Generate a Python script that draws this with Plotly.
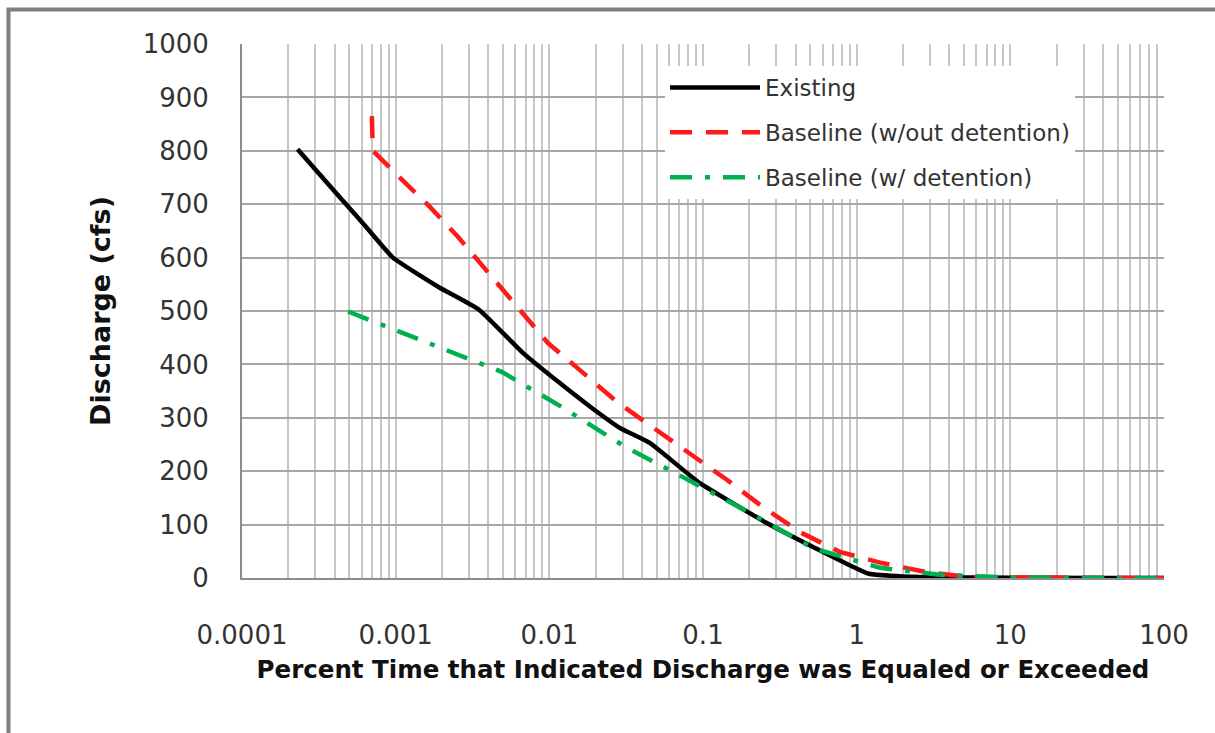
import plotly.graph_objects as go

# ---- data ----
existing_x = [0.00023, 0.00043, 0.00061, 0.00096, 0.0019, 0.0035, 0.0067, 0.0117, 0.019,
              0.0288, 0.045, 0.095, 0.26, 0.52, 0.9, 1.2, 2, 5, 10, 20, 50, 100]
existing_y = [803, 714, 665, 600, 545, 502, 422, 365, 318,
              281, 253, 178, 103, 58, 24, 8, 3, 1, 0.5, 0.3, 0.1, 0]

base_no_det_x = [0.0007, 0.00071, 0.00102, 0.00167, 0.00254, 0.004, 0.0062, 0.0098, 0.0163,
                 0.0275, 0.0466, 0.082, 0.143, 0.245, 0.427, 0.777, 1.46, 2.86, 5.45, 10, 30, 100]
base_no_det_y = [865, 800, 755, 695, 639, 572, 506, 440, 386,
                 330, 283, 234, 184, 133, 86, 49, 28, 11, 2, 1, 0.3, 0]

base_det_x = [0.00049, 0.00186, 0.0049, 0.01225, 0.031, 0.0798, 0.202, 0.519, 1.42, 3.48, 10, 30, 100]
base_det_y = [499, 433, 386, 319, 246, 184, 122, 56, 19, 6, 1, 0.3, 0]

x_tick_vals = [0.0001, 0.001, 0.01, 0.1, 1, 10, 100]
x_tick_text = ["0.0001", "0.001", "0.01", "0.1", "1", "10", "100"]
y_tick_vals = [0, 100, 200, 300, 400, 500, 600, 700, 800, 900, 1000]

series_names = ["Existing", "Baseline (w/out detention)", "Baseline (w/ detention)"]

FONT = "DejaVu Sans"

fig = go.Figure()
fig.add_trace(go.Scatter(x=existing_x, y=existing_y, mode="lines", name=series_names[0],
                         legendgroup="a",
                         line=dict(color="#000000", width=4.5, shape="spline", smoothing=0.4)))
fig.add_trace(go.Scatter(x=base_no_det_x, y=base_no_det_y, mode="lines", name=series_names[1],
                         legendgroup="b",
                         line=dict(color="#FF1A1A", width=4.5, dash="22px,14px")))
fig.add_trace(go.Scatter(x=base_det_x, y=base_det_y, mode="lines", name=series_names[2],
                         legendgroup="c",
                         line=dict(color="#00B050", width=4.5, dash="22px,13px,5px,13px")))

W, H = 1215, 733
L, R, T, B = 242, 51, 44, 155
pw = W - L - R
ph = H - T - B

def px_to_paper_x(px):
    return (px - L) / pw

def px_to_paper_y(py):
    return (H - B - py) / ph

fig.update_layout(
    width=W, height=H,
    margin=dict(l=L, r=R, t=T, b=B),
    paper_bgcolor="white", plot_bgcolor="white",
    font=dict(family=FONT, color="#333333"),
    showlegend=True,
    legend=dict(
        x=px_to_paper_x(665), y=px_to_paper_y(66), xanchor="left", yanchor="top",
        bgcolor="white", borderwidth=0,
        font=dict(family=FONT, size=23, color="#333333"),
        itemwidth=90, tracegroupgap=12,
    ),
    shapes=[
        dict(type="rect", xref="paper", yref="paper",
             x0=px_to_paper_x(8.5), x1=px_to_paper_x(1240),
             y0=px_to_paper_y(760), y1=px_to_paper_y(9.5),
             line=dict(color="#7f7f7f", width=4), fillcolor="rgba(0,0,0,0)", layer="above"),
    ],
)

fig.update_xaxes(
    type="log", range=[-4, 2],
    tickmode="array", tickvals=x_tick_vals, ticktext=x_tick_text,
    tickfont=dict(family=FONT, size=26, color="#333333"),
    showgrid=True, gridcolor="#c6c6c6", gridwidth=2,
    minor=dict(dtick="D1", showgrid=True, gridcolor="#c6c6c6", gridwidth=2, ticks=""),
    showline=True, linecolor="#8c8c8c", linewidth=2,
    ticks="outside", ticklen=0, ticklabelstandoff=33,
    zeroline=False,
    title=dict(text="<b>Percent Time that Indicated Discharge was Equaled or Exceeded</b>",
               font=dict(family=FONT, size=24.5, color="#111111"), standoff=12),
)
fig.update_yaxes(
    range=[0, 1000],
    tickmode="array", tickvals=y_tick_vals,
    tickfont=dict(family=FONT, size=26, color="#333333"),
    showgrid=True, gridcolor="#a6a6a6", gridwidth=2,
    showline=True, linecolor="#8c8c8c", linewidth=2,
    ticks="outside", ticklen=0, ticklabelstandoff=26,
    zeroline=False,
    title=dict(text="<b>Discharge (cfs)</b>",
               font=dict(family=FONT, size=27, color="#111111"), standoff=24),
)

fig.write_html("out.html", config={"displayModeBar": False},
               post_script="document.body.style.margin='0';")
